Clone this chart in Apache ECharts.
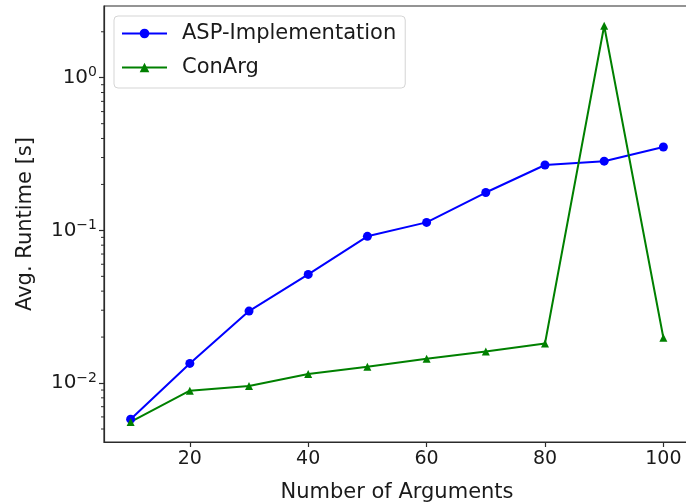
<!DOCTYPE html>
<html><head><meta charset="utf-8">
<script src="https://cdn.jsdelivr.net/npm/echarts@6/dist/echarts.min.js"></script>
<style>html,body{margin:0;padding:0;background:#fff}#c{width:686px;height:504px}</style>
</head><body><div id="c"></div>
<script>
var xValues = [10, 20, 30, 40, 50, 60, 70, 80, 90, 100];
var aspValues = [0.0058, 0.01345, 0.0296, 0.0515, 0.0914, 0.1128, 0.177, 0.268, 0.284, 0.352];
var conargValues = [0.00556, 0.00891, 0.00956, 0.01145, 0.0128, 0.01442, 0.0161, 0.01815, 2.19, 0.0198];
var xTicks = [20, 40, 60, 80, 100];
var yMajorTicks = [0.01, 0.1, 1];
var yMinorTicks = [0.005,0.006,0.007,0.008,0.009,0.02,0.03,0.04,0.05,0.06,0.07,0.08,0.09,0.2,0.3,0.4,0.5,0.6,0.7,0.8,0.9,2];
var seriesNames = ['ASP-Implementation', 'ConArg'];

var FONT = 'DejaVu Sans';
var TXT = '#1a1a1a';
var AX = '#2b2b2b';
var xMin = 5.5, xMax = 104.5;
var yMin = 0.00411, yMax = 2.95;

function pairs(v){ return xValues.map(function(x,i){ return [x, v[i]]; }); }
function expLabel(v){
  var e = Math.round(Math.log10(v));
  var s = e < 0 ? '\u2212' + (-e) : '' + e;
  return '10{sup|' + s + '}';
}

var chart = echarts.init(document.getElementById('c'), null, {renderer:'canvas'});
chart.setOption({
  animation: false,
  backgroundColor: '#fff',
  grid: {left: 104, right: -4, top: 6, bottom: 62, containLabel: false, outerBoundsMode: 'none',
         show: true, borderColor: AX, borderWidth: 1.2, backgroundColor: 'transparent'},
  legend: {
    left: 114, top: 16, orient: 'vertical',
    padding: [7, 9, 10, 7],
    itemWidth: 45, itemHeight: 12, itemGap: 13,
    borderColor: '#d5d5d5', borderWidth: 1, borderRadius: 4,
    backgroundColor: 'rgba(255,255,255,0.8)',
    textStyle: {fontFamily: FONT, fontSize: 21, color: TXT, lineHeight: 21, padding: [0,0,0,10]},
    data: seriesNames
  },
  xAxis: {
    type: 'value', min: xMin, max: xMax,
    name: 'Number of Arguments', nameLocation: 'middle', nameGap: 40,
    nameTextStyle: {fontFamily: FONT, fontSize: 21, color: TXT},
    axisLine: {show: true, lineStyle: {color: AX, width: 1.2}},
    axisTick: {show: true, length: 5, lineStyle: {color: AX, width: 1.2}, customValues: xTicks},
    axisLabel: {fontFamily: FONT, fontSize: 19, color: TXT, margin: 8, customValues: xTicks},
    splitLine: {show: false}
  },
  yAxis: {
    type: 'log', logBase: 10, min: yMin, max: yMax,
    name: 'Avg. Runtime [s]', nameLocation: 'middle', nameGap: 68,
    nameTextStyle: {fontFamily: FONT, fontSize: 21, color: TXT},
    axisLine: {show: true, lineStyle: {color: AX, width: 1.2}},
    axisTick: {show: true, length: 5, lineStyle: {color: AX, width: 1.2}, customValues: yMajorTicks},
    axisLabel: {fontFamily: FONT, fontSize: 20, color: TXT, margin: 7, customValues: yMajorTicks,
      formatter: expLabel,
      rich: {sup: {fontFamily: FONT, fontSize: 14, color: TXT, verticalAlign: 'top', padding: [0,0,10,0]}}},
    splitLine: {show: false}
  },
  series: [{
    name: 'minorTicks', type: 'custom', clip: false, silent: true, z: 5,
    data: yMinorTicks.map(function(v){ return [xMin, v]; }),
    renderItem: function(params, api){
      var p = api.coord([api.value(0), api.value(1)]);
      return {type: 'line', shape: {x1: p[0] - 3, y1: p[1], x2: p[0], y2: p[1]},
              style: {stroke: AX, lineWidth: 1}};
    }
  }, {
    name: seriesNames[0], type: 'line', data: pairs(aspValues),
    symbol: 'circle', symbolSize: 9,
    lineStyle: {color: '#0000ff', width: 2}, itemStyle: {color: '#0000ff'}
  }, {
    name: seriesNames[1], type: 'line', data: pairs(conargValues),
    symbol: 'triangle', symbolSize: 8,
    lineStyle: {color: '#008000', width: 2}, itemStyle: {color: '#008000'}
  }]
});
</script>
</body></html>
